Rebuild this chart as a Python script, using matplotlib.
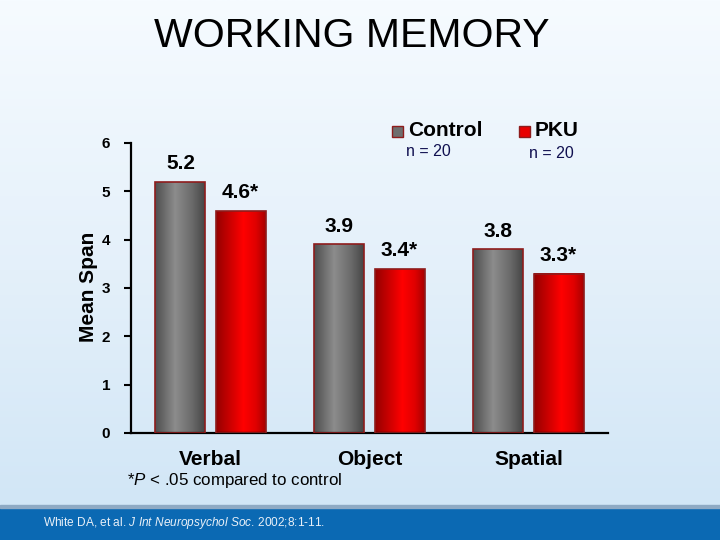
import numpy as np
import matplotlib
matplotlib.use("Agg")
import matplotlib.pyplot as plt
from matplotlib.patches import Rectangle
from matplotlib.colors import LinearSegmentedColormap

categories = ["Verbal", "Object", "Spatial"]
series_names = ["Control", "PKU"]
control_vals = [5.2, 3.9, 3.8]
pku_vals = [4.6, 3.4, 3.3]
control_labels = ["5.2", "3.9", "3.8"]
pku_labels = ["4.6*", "3.4*", "3.3*"]
n_labels = ["n = 20", "n = 20"]
y_ticks = [0, 1, 2, 3, 4, 5, 6]

plt.rcParams['font.family'] = ['Liberation Sans', 'DejaVu Sans']
plt.rcParams['mathtext.fontset'] = 'custom'
plt.rcParams['mathtext.rm'] = 'Liberation Sans'
plt.rcParams['mathtext.it'] = 'Liberation Sans:italic'
plt.rcParams['mathtext.bf'] = 'Liberation Sans:bold'

W, H = 720, 540
fig = plt.figure(figsize=(7.2, 5.4), dpi=100)

# background gradient
bg = fig.add_axes([0, 0, 1, 1], zorder=-10)
bg_cmap = LinearSegmentedColormap.from_list("bg", ["#f6fbff", "#e4f0fa", "#cfe5f6"])
grad = np.linspace(0, 1, 256).reshape(-1, 1)
bg.imshow(grad, aspect='auto', cmap=bg_cmap, extent=[0, 1, 0, 1], origin='upper')
# footer
bg.add_patch(Rectangle((0, 0), 1, 32 / H, color="#0b69b3"))
bg.add_patch(Rectangle((0, 32 / H), 1, 3 / H, color="#8eaac4"))
bg.set_xlim(0, 1)
bg.set_ylim(0, 1)
bg.axis('off')

ax = fig.add_axes([131 / W, 1 - 433 / H, (608 - 131) / W, (433 - 143) / H])
ax.set_facecolor('none')

grey_cmap = LinearSegmentedColormap.from_list(
    "grey", [(0, "#4e4e4e"), (0.4, "#8c8c8c"), (0.75, "#6a6a6a"), (1, "#464646")])
red_cmap = LinearSegmentedColormap.from_list(
    "red", [(0, "#950000"), (0.55, "#ff0000"), (0.8, "#e00000"), (1, "#a80000")])

x = np.arange(len(categories))
bw = 0.314
off = 0.189
hgrad = np.linspace(0, 1, 128).reshape(1, -1)

for vals, labels, cmap, sgn in [(control_vals, control_labels, grey_cmap, -1),
                                (pku_vals, pku_labels, red_cmap, 1)]:
    bars = ax.bar(x + sgn * off, vals, width=bw, color='none',
                  edgecolor='#8e1c1c', linewidth=1.2, zorder=3)
    for b, lab in zip(bars, labels):
        x0 = b.get_x()
        h = b.get_height()
        im = ax.imshow(hgrad, cmap=cmap, aspect='auto',
                       extent=[x0, x0 + b.get_width(), 0, h], zorder=2)
        im.set_clip_path(b)
        ax.annotate(lab, (x0 + b.get_width() / 2, h), xytext=(0, 13),
                    textcoords='offset points', ha='center', va='center',
                    fontsize=15, fontweight='bold', color='black')

ax.set_xlim(-0.5, 2.5)
ax.set_ylim(0, 6)
ax.set_yticks(y_ticks)
ax.set_yticklabels([str(t) for t in y_ticks], fontsize=11, fontweight='bold')
ax.set_xticks(x)
ax.set_xticklabels(categories, fontsize=15, fontweight='bold')
ax.tick_params(axis='x', length=0, pad=12)
ax.tick_params(axis='y', length=5, width=1.5, direction='out', pad=10)
for s in ['top', 'right']:
    ax.spines[s].set_visible(False)
for s in ['left', 'bottom']:
    ax.spines[s].set_linewidth(1.6)
    ax.spines[s].set_color('black')

fig.text(88 / W, 1 - 287 / H, "Mean Span", rotation=90, ha='center', va='center',
         fontsize=15, fontweight='bold')

# title
fig.text(352 / W, 1 - 36 / H, "WORKING MEMORY", ha='center', va='center', fontsize=29.5)

# legend
leg_colors = ["#6e6e6e", "#e80000"]
sq_x = [392, 519]
for name, c, sx in zip(series_names, leg_colors, sq_x):
    fig.patches.append(Rectangle((sx / W, 1 - 137 / H), 11 / W, 11 / H,
                                 facecolor=c, edgecolor='#8e1c1c', linewidth=1,
                                 transform=fig.transFigure, figure=fig))
    fig.text((sx + 16) / W, 1 - 131 / H, name, ha='left', va='center',
             fontsize=15, fontweight='bold')
fig.text(428 / W, 1 - 151 / H, n_labels[0], ha='center', va='center',
         fontsize=11.5, color='#101050')
fig.text(551 / W, 1 - 153 / H, n_labels[1], ha='center', va='center',
         fontsize=11.5, color='#101050')

# footnote
fig.text(235 / W, 1 - 481 / H, r"*$\mathit{P}$ < .05 compared to control",
         ha='center', va='center', fontsize=12.2)
fig.text(43 / W, 1 - 523 / H,
         r"White DA, et al. $\mathit{J\ Int\ Neuropsychol\ Soc}$. 2002;8:1-11.",
         ha='left', va='center', fontsize=8.6, color='#e8f0f8')

fig.savefig("out.png", dpi=100)
